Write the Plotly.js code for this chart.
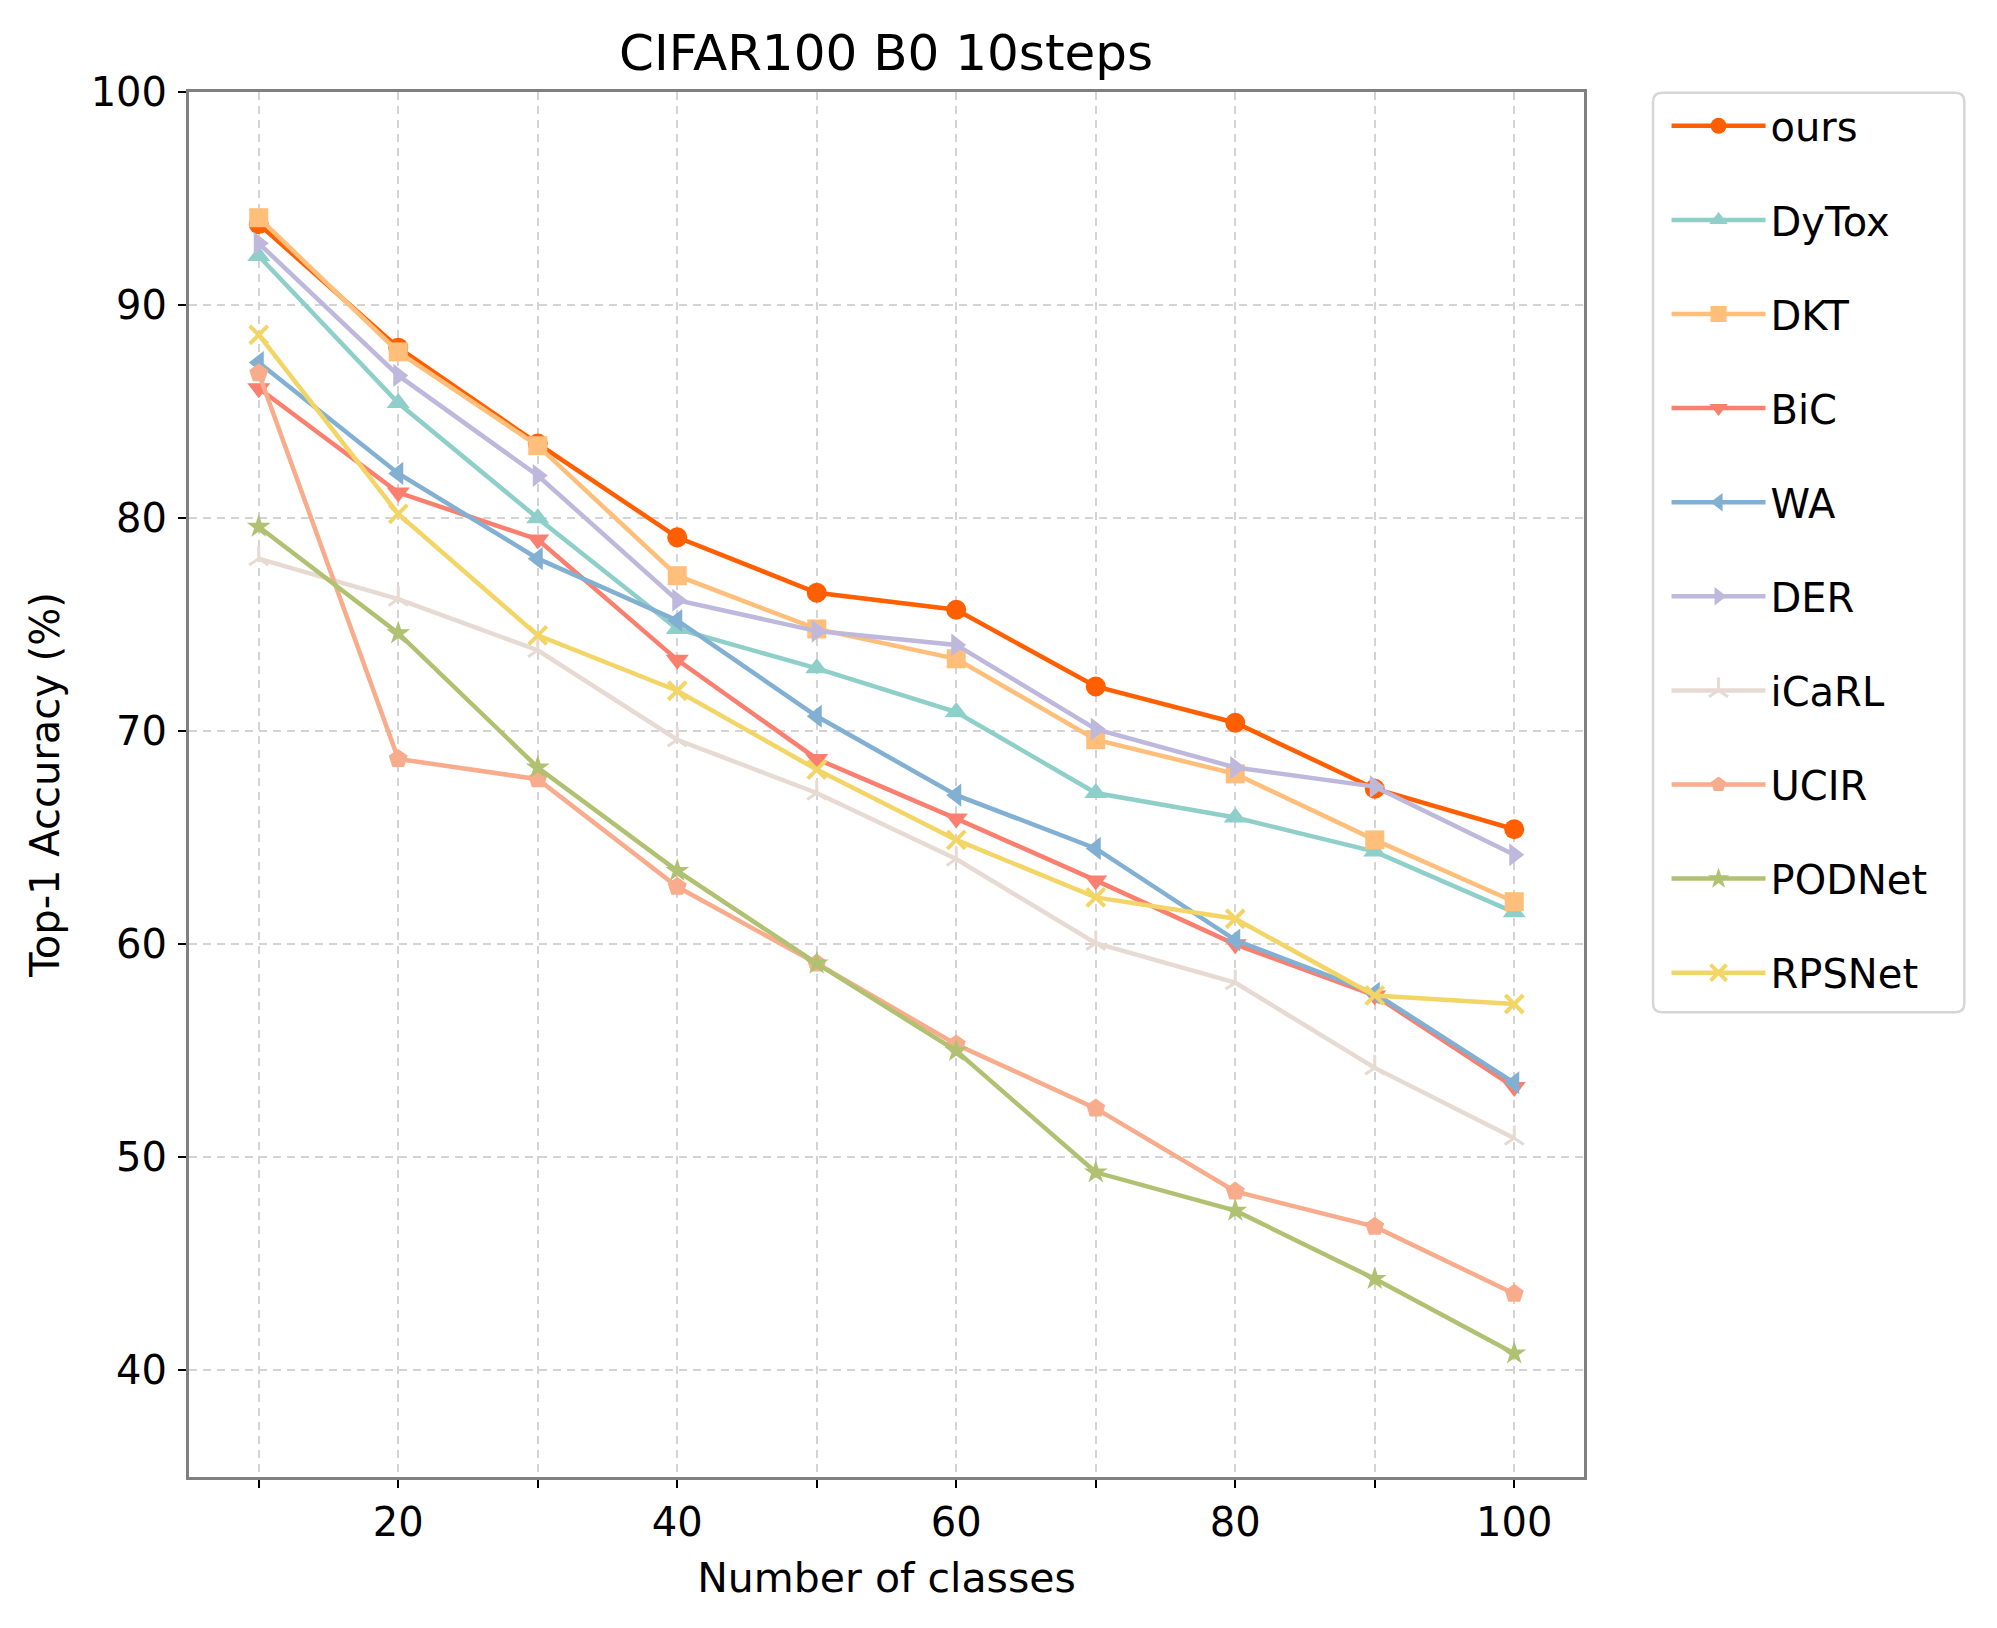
<!DOCTYPE html>
<html>
<head>
<meta charset="utf-8">
<script src="https://cdn.plot.ly/plotly-3.0.1.min.js"></script>
<style>
html,body{margin:0;padding:0;background:#fff;}
#chart{width:1997px;height:1628px;}
</style>
</head>
<body>
<div id="chart"></div>
<script>
const classes = [10, 20, 30, 40, 50, 60, 70, 80, 90, 100];
const ours   = [93.8, 88.0, 83.5, 79.1, 76.5, 75.7, 72.1, 70.4, 67.3, 65.4];
const DyTox  = [92.3, 85.4, 80.0, 74.8, 72.95, 70.9, 67.1, 65.95, 64.35, 61.5];
const DKT    = [94.1, 87.8, 83.4, 77.3, 74.8, 73.4, 69.6, 68.0, 64.9, 62.0];
const BiC    = [86.1, 81.2, 79.0, 73.35, 68.7, 65.9, 63.0, 60.0, 57.6, 53.3];
const WA     = [87.3, 82.1, 78.1, 75.2, 70.7, 67.0, 64.5, 60.2, 57.7, 53.5];
const DER    = [92.9, 86.7, 82.0, 76.15, 74.7, 74.05, 70.1, 68.3, 67.4, 64.2];
const iCaRL  = [78.1, 76.2, 73.8, 69.6, 67.1, 64.0, 60.05, 58.2, 54.2, 50.9];
const UCIR   = [86.8, 68.7, 67.75, 62.7, 59.1, 55.3, 52.3, 48.4, 46.75, 43.6];
const PODNet = [79.6, 74.6, 68.3, 63.45, 59.1, 55.0, 49.3, 47.5, 44.3, 40.8];
const RPSNet = [88.6, 80.2, 74.5, 71.9, 68.2, 64.9, 62.2, 61.2, 57.6, 57.2];

const xTickVals = [10, 20, 30, 40, 50, 60, 70, 80, 90, 100];
const xTickText = ['', '20', '', '40', '', '60', '', '80', '', '100'];
const yTickVals = [40, 50, 60, 70, 80, 90, 100];

const series = [
  {name: 'ours',   y: ours,   color: '#FF5F00', symbol: 'circle', size: 20},
  {name: 'DyTox',  y: DyTox,  color: '#8ECFC9', symbol: 'triangle-up', size: 20},
  {name: 'DKT',    y: DKT,    color: '#FFBE7A', symbol: 'square', size: 19},
  {name: 'BiC',    y: BiC,    color: '#FA7F6F', symbol: 'triangle-down', size: 20},
  {name: 'WA',     y: WA,     color: '#82B0D2', symbol: 'triangle-left', size: 20},
  {name: 'DER',    y: DER,    color: '#BEB8DC', symbol: 'triangle-right', size: 20},
  {name: 'iCaRL',  y: iCaRL,  color: '#E7DAD2', symbol: 'y-up-open', size: 16, open: true, lw: 3},
  {name: 'UCIR',   y: UCIR,   color: '#F8AC8C', symbol: 'pentagon', size: 20},
  {name: 'PODNet', y: PODNet, color: '#B0C172', symbol: 'star', size: 18},
  {name: 'RPSNet', y: RPSNet, color: '#F3D566', symbol: 'x-thin-open', size: 18, open: true, lw: 4}
];

const traces = series.map((s, i) => ({
  type: 'scatter',
  mode: 'lines+markers',
  name: s.name,
  x: classes,
  y: s.y,
  legendgroup: 'g' + i,
  line: {color: s.color, width: 4.5},
  marker: {
    symbol: s.symbol,
    size: s.size,
    color: s.color,
    line: s.open ? {color: s.color, width: s.lw} : {width: 0}
  }
}));

const font = 'DejaVu Sans, sans-serif';

// plot area geometry (px)
const W = 1997, H = 1628;
const mL = 188.5, mR = 412.6, mT = 91.7, mB = 150.6;
const pw = W - mL - mR, ph = H - mT - mB;
const px2x = p => (p - mL) / pw;
const px2y = p => 1 - (p - mT) / ph;

// rounded legend frame, built in pixel space then converted to paper coords
function roundedRect(x0, y0, x1, y1, r) {
  const P = (x, y) => px2x(x).toFixed(5) + ',' + px2y(y).toFixed(5);
  return 'M' + P(x0 + r, y0) +
    ' L' + P(x1 - r, y0) + ' Q' + P(x1, y0) + ' ' + P(x1, y0 + r) +
    ' L' + P(x1, y1 - r) + ' Q' + P(x1, y1) + ' ' + P(x1 - r, y1) +
    ' L' + P(x0 + r, y1) + ' Q' + P(x0, y1) + ' ' + P(x0, y1 - r) +
    ' L' + P(x0, y0 + r) + ' Q' + P(x0, y0) + ' ' + P(x0 + r, y0) + ' Z';
}

const layout = {
  width: W,
  height: H,
  paper_bgcolor: '#ffffff',
  plot_bgcolor: '#ffffff',
  margin: {l: mL, r: mR, t: mT, b: mB, pad: 0},
  font: {family: font, size: 40, color: '#000'},
  title: {
    text: 'CIFAR100 B0 10steps',
    font: {family: font, size: 50, color: '#000'},
    x: 0.4437, xref: 'container', xanchor: 'center',
    y: 1 - 52 / 1628, yref: 'container', yanchor: 'middle'
  },
  xaxis: {
    range: [5, 105],
    tickvals: xTickVals,
    ticktext: xTickText,
    ticks: 'outside', ticklen: 8, tickwidth: 2, tickcolor: '#000',
    showline: true, linecolor: '#808080', linewidth: 3, mirror: true,
    showgrid: true, gridcolor: '#d4d4d4', gridwidth: 2, griddash: '8px,6px',
    zeroline: false,
    tickfont: {family: font, size: 40, color: '#000'},
    title: {text: 'Number of classes', font: {family: font, size: 41, color: '#000'}, standoff: 20}
  },
  yaxis: {
    range: [35, 100],
    tickvals: yTickVals,
    ticks: 'outside', ticklen: 8, tickwidth: 2, tickcolor: '#000',
    ticklabelstandoff: 3,
    showline: true, linecolor: '#808080', linewidth: 3, mirror: true,
    showgrid: true, gridcolor: '#d4d4d4', gridwidth: 2, griddash: '8px,6px',
    zeroline: false,
    tickfont: {family: font, size: 40, color: '#000'},
    title: {text: 'Top-1 Accuracy (%)', font: {family: font, size: 40, color: '#000'}, standoff: 19}
  },
  legend: {
    x: px2x(1667), xanchor: 'left',
    y: px2y(93), yanchor: 'top',
    borderwidth: 0,
    bgcolor: 'rgba(0,0,0,0)',
    font: {family: font, size: 40, color: '#000'},
    tracegroupgap: 39.1,
    itemwidth: 94,
    traceorder: 'grouped'
  },
  shapes: [{
    type: 'path',
    xref: 'paper', yref: 'paper',
    path: roundedRect(1653.5, 92.5, 1965, 1012.5, 9),
    line: {color: '#d6d6d6', width: 2.5},
    fillcolor: 'rgba(0,0,0,0)',
    layer: 'above'
  }],
  showlegend: true
};

Plotly.newPlot('chart', traces, layout, {displayModeBar: false, staticPlot: true});
</script>
</body>
</html>
